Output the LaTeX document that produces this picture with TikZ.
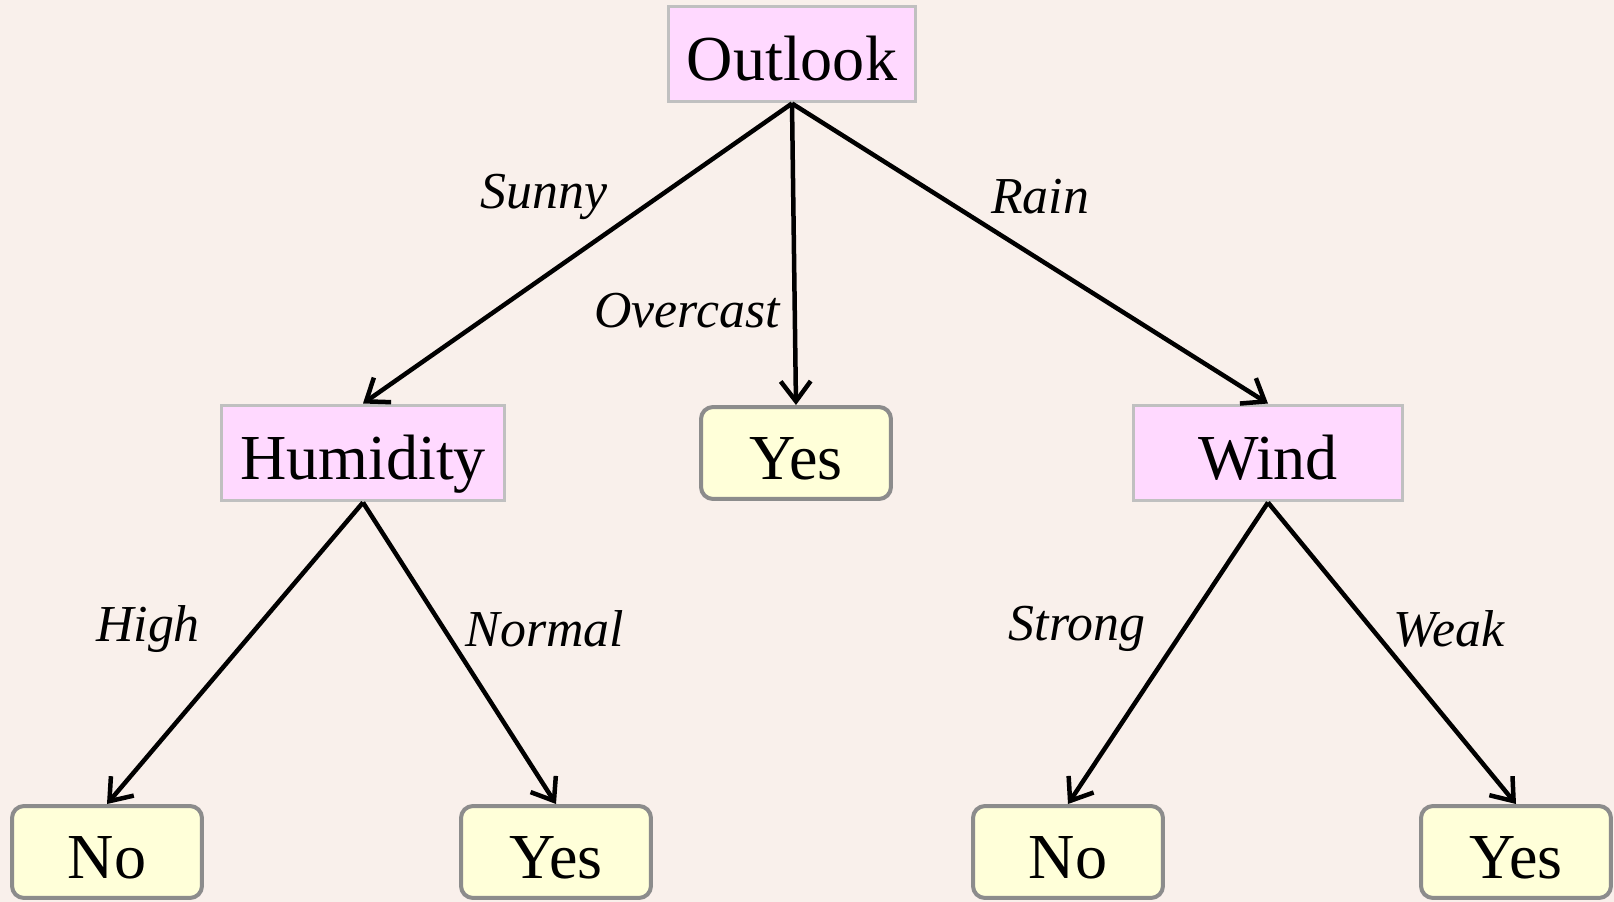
\documentclass[tikz,border=0pt]{standalone}
\usepackage{fontspec}
\setmainfont{Liberation Serif}
\usetikzlibrary{arrows.meta, positioning}

\definecolor{paper}{RGB}{249,240,235}
\definecolor{testpink}{RGB}{255,217,255}
\definecolor{leafyellow}{RGB}{255,255,217}
\definecolor{testedge}{RGB}{192,192,192}
\definecolor{leafedge}{RGB}{140,140,140}

\begin{document}
\begin{tikzpicture}[x=0.02cm, y=-0.02cm, >={Straight Barb[length=0.4cm, width=0.6cm]}]
    % Styles
    \tikzstyle{test} = [rectangle, draw=testedge, line width=0.06cm, fill=testpink, minimum height=1.92cm, inner sep=0pt, text height=1.07cm, text depth=0cm, font=\fontsize{36.5}{44}\selectfont]
    \tikzstyle{leaf} = [rectangle, draw=leafedge, line width=0.08cm, fill=leafyellow, rounded corners=0.24cm, minimum width=3.8cm, minimum height=1.84cm, inner sep=0pt, text height=1.07cm, text depth=0cm, font=\fontsize{36.5}{44}\selectfont]
    \tikzstyle{value} = [font=\fontsize{29.5}{36}\selectfont\itshape, inner sep=0pt]
    \tikzstyle{line} = [draw, line width=0.09cm, ->]

    % Background
    \fill[paper] (0,0) rectangle (1614,902);
    \useasboundingbox (0,0) rectangle (1614,902);

    % Nodes
    \node [test, minimum width=4.96cm] (outlook) at (792,54) {Outlook};
    \node [test, minimum width=5.68cm] (humidity) at (363,453) {Humidity};
    \node [leaf] (overyes) at (796,453) {Yes};
    \node [test, minimum width=5.4cm] (wind) at (1268,453) {Wind};
    \node [leaf] (highno) at (107,852) {No};
    \node [leaf] (normalyes) at (556,852) {Yes};
    \node [leaf] (strongno) at (1068,852) {No};
    \node [leaf] (weakyes) at (1516,852) {Yes};

    % Branch values
    \node [value] (sunny) at (544,197) {Sunny};
    \node [value] (overcast) at (687,311) {Overcast};
    \node [value] (rain) at (1040,197) {Rain};
    \node [value] (high) at (148,629) {High};
    \node [value] (normal) at (545,629) {Normal};
    \node [value] (strong) at (1077,629) {Strong};
    \node [value] (weak) at (1449,629) {Weak};

    % Paths
    \path [line] (outlook.south) -- (humidity.north);
    \path [line] (outlook.south) -- (overyes.north);
    \path [line] (outlook.south) -- (wind.north);
    \path [line] (humidity.south) -- (highno.north);
    \path [line] (humidity.south) -- (normalyes.north);
    \path [line] (wind.south) -- (strongno.north);
    \path [line] (wind.south) -- (weakyes.north);

\end{tikzpicture}
\end{document}
